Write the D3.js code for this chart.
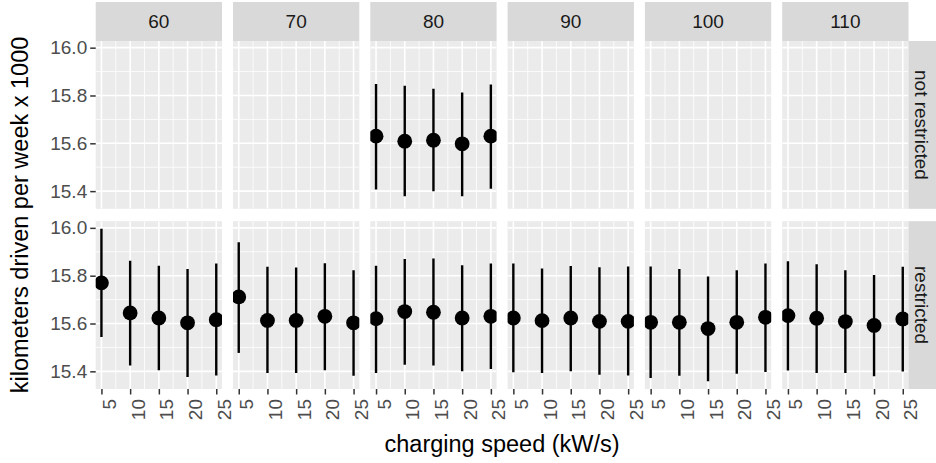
<!DOCTYPE html>
<html>
<head>
<meta charset="utf-8">
<script src="https://cdn.jsdelivr.net/npm/d3@7"></script>
<style>
  body { margin: 0; background: #fff; }
  svg { display: block; font-family: "Liberation Sans", Arial, sans-serif; }
</style>
</head>
<body>
<div id="chart"></div>
<script>
// Faceted point + error bar chart (speed limit columns x restriction rows)

const speeds = [5, 10, 15, 20, 25];
const limits = ['60', '70', '80', '90', '100', '110'];
const restrictions = ['not restricted', 'restricted'];
const yTicks = [15.4, 15.6, 15.8, 16.0];

// restricted row, one array per speed limit (60 .. 110)
const restrictedMean = [
    [15.770, 15.644, 15.623, 15.603, 15.616],
    [15.711, 15.613, 15.613, 15.630, 15.603],
    [15.620, 15.650, 15.647, 15.623, 15.630],
    [15.623, 15.612, 15.623, 15.609, 15.609],
    [15.605, 15.605, 15.579, 15.605, 15.626],
    [15.633, 15.622, 15.608, 15.592, 15.619]
];
const restrictedLow = [
    [15.544, 15.424, 15.404, 15.376, 15.383],
    [15.477, 15.393, 15.393, 15.404, 15.382],
    [15.393, 15.428, 15.424, 15.400, 15.410],
    [15.396, 15.393, 15.400, 15.386, 15.383],
    [15.372, 15.382, 15.358, 15.390, 15.397],
    [15.403, 15.393, 15.393, 15.379, 15.399]
];
const restrictedHigh = [
    [15.996, 15.863, 15.842, 15.828, 15.851],
    [15.940, 15.837, 15.834, 15.852, 15.823],
    [15.842, 15.870, 15.872, 15.844, 15.851],
    [15.851, 15.830, 15.841, 15.835, 15.838],
    [15.838, 15.828, 15.797, 15.823, 15.851],
    [15.860, 15.848, 15.823, 15.803, 15.837]
];

// not restricted row only has the 80 column
const notRestrictedLimit = '80';
const notRestrictedMean = [15.630, 15.609, 15.613, 15.598, 15.630];
const notRestrictedLow  = [15.407, 15.379, 15.399, 15.379, 15.410];
const notRestrictedHigh = [15.848, 15.841, 15.828, 15.813, 15.846];

// flatten into rows for drawing
const points = [];
speeds.forEach((s, i) => {
    points.push({ limit: notRestrictedLimit, row: restrictions[0], speed: s,
        mean: notRestrictedMean[i], low: notRestrictedLow[i], high: notRestrictedHigh[i] });
});
limits.forEach((lim, j) => {
    speeds.forEach((s, i) => {
        points.push({ limit: lim, row: restrictions[1], speed: s,
            mean: restrictedMean[j][i], low: restrictedLow[j][i], high: restrictedHigh[j][i] });
    });
});

const W = 936, H = 463;
const panelLeft = 95.7, panelTop = 41;
const panelW = 126.3, panelH = 167.8;
const gapX = 11, gapY = 12.4;
const stripH = 39, stripW = 27.5;

const svg = d3.select('#chart').append('svg')
    .attr('width', W)
    .attr('height', H);

// scales
const xPanel = d3.scaleOrdinal().domain(limits)
    .range(limits.map((d, i) => panelLeft + i * (panelW + gapX)));
const yPanel = d3.scaleOrdinal().domain(restrictions)
    .range(restrictions.map((d, i) => panelTop + i * (panelH + gapY)));

const sExt = d3.extent(speeds);
const sPad = (sExt[1] - sExt[0]) * 0.05;
const xScale = d3.scaleLinear().domain([sExt[0] - sPad, sExt[1] + sPad]).range([0, panelW]);

const yMin = d3.min(points, d => d.low), yMax = d3.max(points, d => d.high);
const yPad = (yMax - yMin) * 0.05;
const yScale = d3.scaleLinear().domain([yMin - yPad, yMax + yPad]).range([panelH, 0]);

const xMinor = [7.5, 12.5, 17.5, 22.5];
const yMinor = [15.5, 15.7, 15.9];

svg.append('defs').append('clipPath')
    .attr('id', 'panel-clip')
    .append('rect')
    .attr('width', panelW)
    .attr('height', panelH);

restrictions.forEach(row => {
    limits.forEach(lim => {
        const g = svg.append('g')
            .attr('transform', `translate(${xPanel(lim)},${yPanel(row)})`);

        g.append('rect')
            .attr('width', panelW)
            .attr('height', panelH)
            .attr('fill', '#EBEBEB');

        const inner = g.append('g').attr('clip-path', 'url(#panel-clip)');

        // minor grid
        inner.selectAll('.ymin').data(yMinor).enter().append('line')
            .attr('x1', 0).attr('x2', panelW)
            .attr('y1', d => yScale(d)).attr('y2', d => yScale(d))
            .attr('stroke', '#fff').attr('stroke-width', 0.8);
        inner.selectAll('.xmin').data(xMinor).enter().append('line')
            .attr('y1', 0).attr('y2', panelH)
            .attr('x1', d => xScale(d)).attr('x2', d => xScale(d))
            .attr('stroke', '#fff').attr('stroke-width', 0.8);
        // major grid
        inner.selectAll('.ymaj').data(yTicks).enter().append('line')
            .attr('x1', 0).attr('x2', panelW)
            .attr('y1', d => yScale(d)).attr('y2', d => yScale(d))
            .attr('stroke', '#fff').attr('stroke-width', 1.6);
        inner.selectAll('.xmaj').data(speeds).enter().append('line')
            .attr('y1', 0).attr('y2', panelH)
            .attr('x1', d => xScale(d)).attr('x2', d => xScale(d))
            .attr('stroke', '#fff').attr('stroke-width', 1.6);

        const data = points.filter(d => d.row === row && d.limit === lim);

        inner.selectAll('.bar').data(data).enter().append('line')
            .attr('x1', d => xScale(d.speed)).attr('x2', d => xScale(d.speed))
            .attr('y1', d => yScale(d.low)).attr('y2', d => yScale(d.high))
            .attr('stroke', '#000').attr('stroke-width', 2.4);

        inner.selectAll('.pt').data(data).enter().append('circle')
            .attr('cx', d => xScale(d.speed))
            .attr('cy', d => yScale(d.mean))
            .attr('r', 7.4)
            .attr('fill', '#000');
    });
});

// top strips
limits.forEach(lim => {
    const g = svg.append('g')
        .attr('transform', `translate(${xPanel(lim)},${panelTop - stripH})`);
    g.append('rect').attr('width', panelW).attr('height', stripH).attr('fill', '#D9D9D9');
    g.append('text')
        .attr('x', panelW / 2).attr('y', stripH / 2)
        .attr('dy', '0.36em')
        .attr('text-anchor', 'middle')
        .style('font-size', '19px')
        .style('fill', '#1A1A1A')
        .text(lim);
});

// right strips
const stripX = xPanel(limits[limits.length - 1]) + panelW;
restrictions.forEach(row => {
    const g = svg.append('g')
        .attr('transform', `translate(${stripX},${yPanel(row)})`);
    g.append('rect').attr('width', stripW).attr('height', panelH).attr('fill', '#D9D9D9');
    g.append('text')
        .attr('transform', `translate(${stripW / 2},${panelH / 2}) rotate(90)`)
        .attr('dy', '0.36em')
        .attr('text-anchor', 'middle')
        .style('font-size', '19px')
        .style('fill', '#1A1A1A')
        .text(row);
});

// y axes (one per row)
restrictions.forEach(row => {
    const ax = svg.append('g')
        .attr('transform', `translate(${panelLeft},${yPanel(row)})`)
        .call(d3.axisLeft(yScale).tickValues(yTicks).tickFormat(d3.format('.1f'))
            .tickSize(5.5).tickPadding(3));
    ax.select('.domain').remove();
    ax.selectAll('.tick line').attr('stroke', '#333').attr('stroke-width', 1.5);
    ax.selectAll('.tick text')
        .style('font-size', '19px')
        .style('font-family', '"Liberation Sans", Arial, sans-serif')
        .attr('fill', '#4D4D4D');
});

// x axes (one per column, bottom row)
const bottomY = yPanel(restrictions[1]) + panelH;
limits.forEach(lim => {
    const ax = svg.append('g')
        .attr('transform', `translate(${xPanel(lim)},${bottomY})`)
        .call(d3.axisBottom(xScale).tickValues(speeds).tickSize(5.5).tickPadding(3));
    ax.select('.domain').remove();
    ax.selectAll('.tick line').attr('stroke', '#333').attr('stroke-width', 1.5);
    ax.selectAll('.tick text')
        .attr('transform', 'translate(14,10) rotate(-90)')
        .attr('x', 0).attr('y', 0).attr('dy', 0)
        .attr('text-anchor', 'end')
        .style('font-size', '19px')
        .style('font-family', '"Liberation Sans", Arial, sans-serif')
        .attr('fill', '#4D4D4D');
});

// axis titles
const panelsRight = stripX;
svg.append('text')
    .attr('x', (panelLeft + panelsRight) / 2)
    .attr('y', 452)
    .attr('text-anchor', 'middle')
    .style('font-size', '23.5px')
    .style('fill', '#000')
    .text('charging speed (kW/s)');

svg.append('text')
    .attr('transform', `translate(28,${(panelTop + bottomY) / 2}) rotate(-90)`)
    .attr('text-anchor', 'middle')
    .style('font-size', '23.5px')
    .style('fill', '#000')
    .text('kilometers driven per week x 1000');
</script>
</body>
</html>
